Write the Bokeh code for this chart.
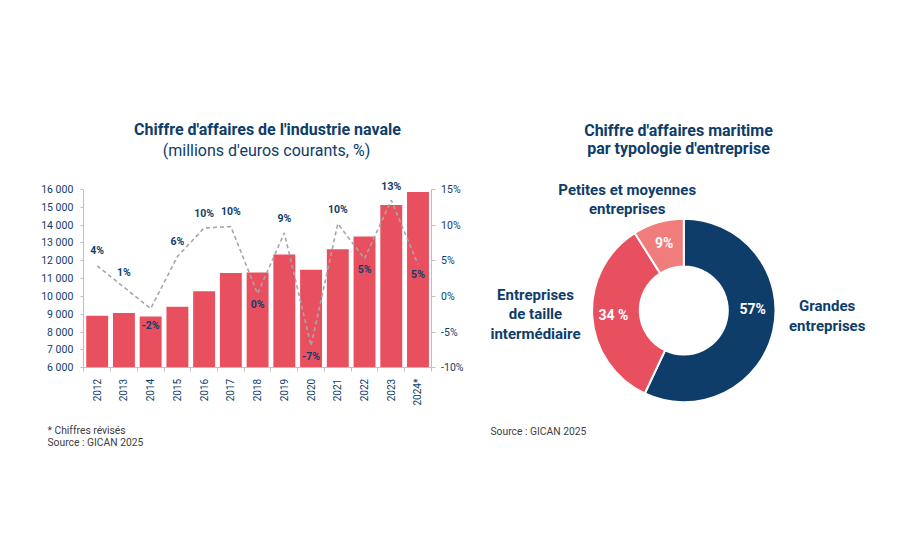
import math
from bokeh.plotting import figure
from bokeh.models import Range1d, LinearAxis, FixedTicker, Label, ColumnDataSource
from bokeh.embed import file_html
from bokeh.resources import INLINE
from bokeh.core.properties import value

# ---------------- data ----------------
years = ["2012", "2013", "2014", "2015", "2016", "2017", "2018",
         "2019", "2020", "2021", "2022", "2023", "2024*"]
revenue = [8920, 9070, 8880, 9430, 10300, 11310, 11350,
           12350, 11500, 12650, 13360, 15130, 15860]
growth = [4.3, 1.3, -1.7, 5.6, 9.6, 9.8, 0.4, 8.9, -6.9, 10.2, 5.3, 13.5, 4.5]
growth_labels = ["4%", "1%", "-2%", "6%", "10%", "10%", "0%",
                 "9%", "-7%", "10%", "5%", "13%", "5%"]
revenue_ticks = [6000, 7000, 8000, 9000, 10000, 11000, 12000,
                 13000, 14000, 15000, 16000]
growth_ticks = [-10, -5, 0, 5, 10, 15]

segments = ["Grandes\nentreprises",
            "Entreprises\nde taille\nintermédiaire",
            "Petites et moyennes\nentreprises"]
shares = [57, 34, 9]
share_labels = ["57%", "34 %", "9%"]

# ---------------- styles / layout ----------------
NAVY = "#0E3D69"
RED = "#E8505F"
PINK = "#F07C7C"
AXIS = "#BFBFBF"
LINE = "#A6A6A6"
NOTE = "#404040"
FONT = "Roboto"
W, H = 900, 540

# pixel anchors of the bar chart (page coords, y from top)
PX_FIRST, PX_LAST = 96.7, 417.5      # centres of first / last bar
PY_TOP, PY_BOT = 189.0, 367.3        # y of top / bottom tick
X_LO, X_HI = -0.52, 12.49            # extent of the category axis

# donut centre (page coords) and radii
DCX, DCY = 683.3, 310.0
R_OUT, R_IN, R_LAB = 91.7, 44.0, 70.5


def lin_range(v0, p0, v1, p1, total):
    k = (v1 - v0) / (p1 - p0)
    return Range1d(v0 - k * p0, v0 + k * (total - p0))


n = len(years)
idx = list(range(n))

p = figure(width=W, height=H, min_border=0, min_border_left=0, min_border_right=0,
           min_border_top=0, min_border_bottom=0,
           x_range=lin_range(0, PX_FIRST, n - 1, PX_LAST, W),
           y_range=lin_range(revenue_ticks[0], H - PY_BOT, revenue_ticks[-1], H - PY_TOP, H),
           output_backend="svg", toolbar_location=None)
p.extra_y_ranges = {
    "pct": lin_range(growth_ticks[0], H - PY_BOT, growth_ticks[-1], H - PY_TOP, H),
    "dy": Range1d(-(H - DCY), DCY),
}
p.extra_x_ranges = {"dx": Range1d(-DCX, W - DCX)}
p.xgrid.visible = False
p.ygrid.visible = False
p.outline_line_color = None
p.background_fill_color = "white"
p.border_fill_color = "white"


def style_axis(ax, size="10px"):
    ax.axis_line_color = AXIS
    ax.major_tick_line_color = AXIS
    ax.minor_tick_line_color = AXIS
    ax.major_label_text_color = NAVY
    ax.major_label_text_font = FONT
    ax.major_label_text_font_size = size


xa = p.xaxis[0]
style_axis(xa, "10px")
xa.fixed_location = revenue_ticks[0]
xa.bounds = (X_LO, X_HI)
xa.ticker = FixedTicker(ticks=idx, minor_ticks=[i - 0.5 for i in range(n + 1)])
xa.major_label_overrides = {i: y for i, y in enumerate(years)}
xa.major_label_orientation = math.pi / 2
xa.major_tick_in = 0
xa.major_tick_out = 0
xa.minor_tick_in = 0
xa.minor_tick_out = 4
xa.major_label_standoff = 7

ya = p.yaxis[0]
style_axis(ya, "10.5px")
ya.fixed_location = X_LO
ya.bounds = (revenue_ticks[0], revenue_ticks[-1])
ya.ticker = FixedTicker(ticks=revenue_ticks, minor_ticks=[])
ya.major_label_overrides = {t: f"{t:,}".replace(",", " ") for t in revenue_ticks}
ya.major_tick_in = 0
ya.major_tick_out = 3
ya.major_label_standoff = 7

ra = LinearAxis(y_range_name="pct", fixed_location=X_HI)
style_axis(ra, "10.5px")
ra.bounds = (growth_ticks[0], growth_ticks[-1])
ra.ticker = FixedTicker(ticks=growth_ticks, minor_ticks=[])
ra.major_label_overrides = {t: f"{t}%" for t in growth_ticks}
ra.major_tick_in = 0
ra.major_tick_out = 4
ra.major_label_standoff = 6
p.add_layout(ra, "right")

growth_label_dy = [-15, -15, 17, -15, -15, -15, 11, -15, 11, -14, 11, -14, 10]
src = ColumnDataSource(dict(x=idx, rev=revenue, g=growth, lab=growth_labels, dy=growth_label_dy))
p.vbar(x="x", top="rev", bottom=revenue_ticks[0], width=0.82, fill_color=RED,
       line_color=None, source=src)
p.line(x="x", y="g", y_range_name="pct", line_color=LINE, line_width=1.6,
       line_dash="4 3", source=src)
p.text(x="x", y="g", text="lab", y_range_name="pct", y_offset="dy",
       text_align="center", text_baseline="middle", text_font=value(FONT),
       text_font_style="bold", text_font_size="10.5px", text_color=NAVY, source=src)

# ---------------- donut ----------------
starts, ends, mids = [], [], []
cum = 0
for s in shares:
    a0 = math.pi / 2 - 2 * math.pi * cum / 100
    a1 = math.pi / 2 - 2 * math.pi * (cum + s) / 100
    starts.append(a0)
    ends.append(a1)
    mids.append((a0 + a1) / 2)
    cum += s

dsrc = ColumnDataSource(dict(start=starts, end=ends, color=[NAVY, RED, PINK],
                             lx=[R_LAB * math.cos(m) for m in mids],
                             ly=[R_LAB * math.sin(m) for m in mids],
                             lab=share_labels, dy=[-17, 0, 0]))
p.annular_wedge(x=0, y=0, inner_radius=R_IN, outer_radius=R_OUT,
                start_angle="start", end_angle="end", direction="clock",
                fill_color="color", line_color="white", line_width=2,
                x_range_name="dx", y_range_name="dy", source=dsrc)
p.text(x="lx", y="ly", text="lab", y_offset="dy", text_align="center", text_baseline="middle",
       text_font=value(FONT), text_font_style="bold", text_font_size="14px",
       text_color="white", x_range_name="dx", y_range_name="dy", source=dsrc)

# category label anchors, relative to donut centre (px)
seg_x = [143.4, -148.3, -56.6]
seg_y = [-5.5, -4.0, 111.2]
p.text(x=seg_x, y=seg_y, text=segments, text_align="center", text_baseline="middle",
       text_font=value(FONT), text_font_style="bold", text_font_size="15px",
       text_color=NAVY, text_line_height=1.08, x_range_name="dx", y_range_name="dy")


# ---------------- titles & notes (screen px, page coords) ----------------
def add_text(x, y, text, size, bold=False, color=NAVY, align="center"):
    p.add_layout(Label(x=x, y=H - y, x_units="screen", y_units="screen", text=text,
                       text_align=align, text_baseline="alphabetic", text_font=FONT,
                       text_font_style="bold" if bold else "normal",
                       text_font_size=size, text_color=color))


add_text(267, 129, "Chiffre d'affaires de l'industrie navale", "16px", bold=True)
add_text(266, 150, "(millions d'euros courants, %)", "16px")
add_text(47, 430, "* Chiffres révisés", "10.3px", color=NOTE, align="left")
add_text(47, 442, "Source : GICAN 2025", "10.3px", color=NOTE, align="left")

add_text(678, 130, "Chiffre d'affaires maritime", "16px", bold=True)
add_text(678, 148, "par typologie d'entreprise", "16px", bold=True)
add_text(490, 431, "Source : GICAN 2025", "10.3px", color=NOTE, align="left")

open("out.html", "w").write(file_html(p, INLINE))
